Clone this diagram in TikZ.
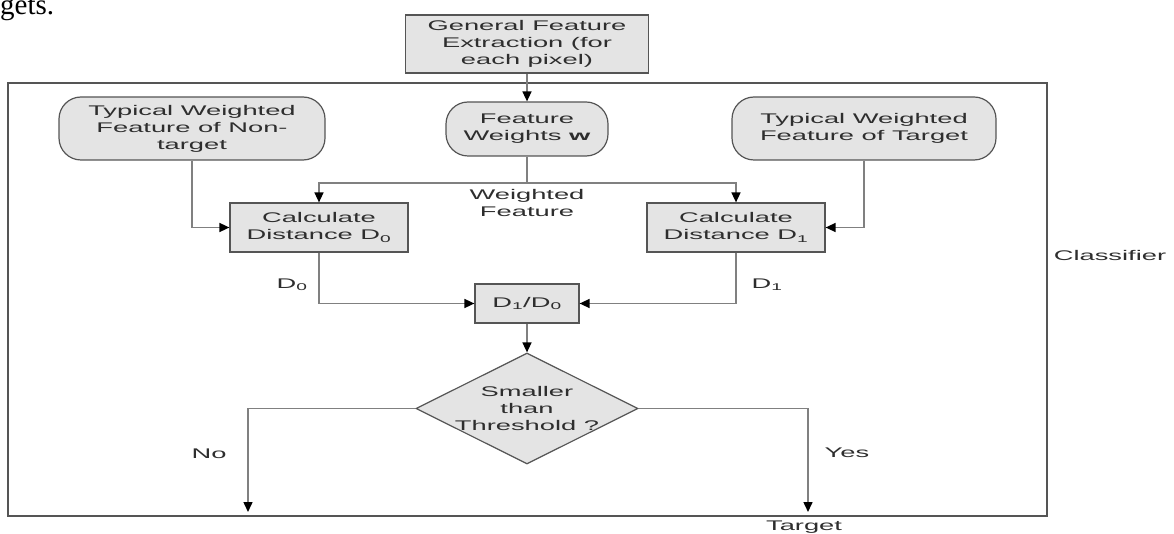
\documentclass[tikz,border=0pt]{standalone}
\usepackage{fontspec}
\usetikzlibrary{arrows.meta,shapes.geometric}
\newfontfamily\diagfont{Liberation Sans}[FakeStretch=1.95]
\newfontfamily\bodyfont{Liberation Serif}
\definecolor{FlowFill}{HTML}{E4E4E4}
\definecolor{FlowEdge}{HTML}{555555}
\definecolor{FlowLine}{HTML}{808080}
\definecolor{FlowInk}{HTML}{2E2E2E}

\begin{document}
\begin{tikzpicture}[x=1pt,y=-1pt,font=\diagfont\fontsize{14}{17}\selectfont]
\tikzset{
  proc/.style={draw=FlowEdge,line width=1.2pt,fill=FlowFill,inner sep=0pt,align=center,text=FlowInk},
  term/.style={proc,rounded corners=22pt},
  decision/.style={proc,diamond,minimum width=222pt,minimum height=111pt},
  flow/.style={draw=FlowLine,line width=1.5pt,-{Triangle[length=10pt,width=9pt,color=black]}},
  plain/.style={draw=FlowLine,line width=1.5pt},
  tag/.style={text=FlowInk,align=center}
}
\useasboundingbox (0,0) rectangle (1174,534);
\node[anchor=base west,inner sep=0pt,font=\bodyfont\fontsize{29}{31}\selectfont] (cut) at (0,15) {gets.};

% classifier frame
\draw[FlowEdge,line width=1.3pt] (8,83) rectangle (1047,516);
\node[tag] (cls) at (1110,255) {Classifier};

\node[proc,minimum width=243pt,minimum height=58pt] (gfe) at (527,44) {General Feature\\Extraction (for\\each pixel)};
\node[term,minimum width=162pt,minimum height=54pt] (fw) at (527,129) {Feature\\Weights \textbf{w}};
\node[term,minimum width=266pt,minimum height=63pt] (nontgt) at (192,128.5) {Typical Weighted\\Feature of Non-\\target};
\node[term,minimum width=264pt,minimum height=63pt] (tgt) at (864,128.5) {Typical Weighted\\Feature of Target};
\node[proc,minimum width=178pt,minimum height=49pt] (d0) at (319,227.5) {Calculate\\Distance D\textsubscript{0}};
\node[proc,minimum width=178pt,minimum height=49pt] (d1) at (736,227.5) {Calculate\\Distance D\textsubscript{1}};
\node[proc,minimum width=104pt,minimum height=39pt] (ratio) at (527,303.5) {D\textsubscript{1}/D\textsubscript{0}};
\node[decision,label={[tag]center:Smaller\\than\\Threshold ?}] (thr) at (527,408.5) {};

\coordinate (split) at (527,183);
\coordinate (noend) at (248,512);
\coordinate (yesend) at (808,512);

\draw[flow] (gfe) -- (fw);
\draw[plain] (fw) -- (split);
\draw[flow] (split) -| (d0);
\draw[flow] (split) -| (d1);
\node[tag] (wf) at (527,203) {Weighted\\Feature};
\draw[flow] (nontgt) |- (d0);
\draw[flow] (tgt) |- (d1);
\draw[flow] (d0) |- (ratio);
\draw[flow] (d1) |- (ratio);
\node[tag] (l0) at (292,285) {D\textsubscript{0}};
\node[tag] (l1) at (767,285) {D\textsubscript{1}};
\draw[flow] (ratio) -- (thr);
\draw[flow] (thr.west) -| (noend);
\draw[flow] (thr.east) -| (yesend);
\node[tag] (no) at (209,454) {No};
\node[tag] (yes) at (847,453) {Yes};
\node[tag] (out) at (804,527) {Target};
\end{tikzpicture}
\end{document}
